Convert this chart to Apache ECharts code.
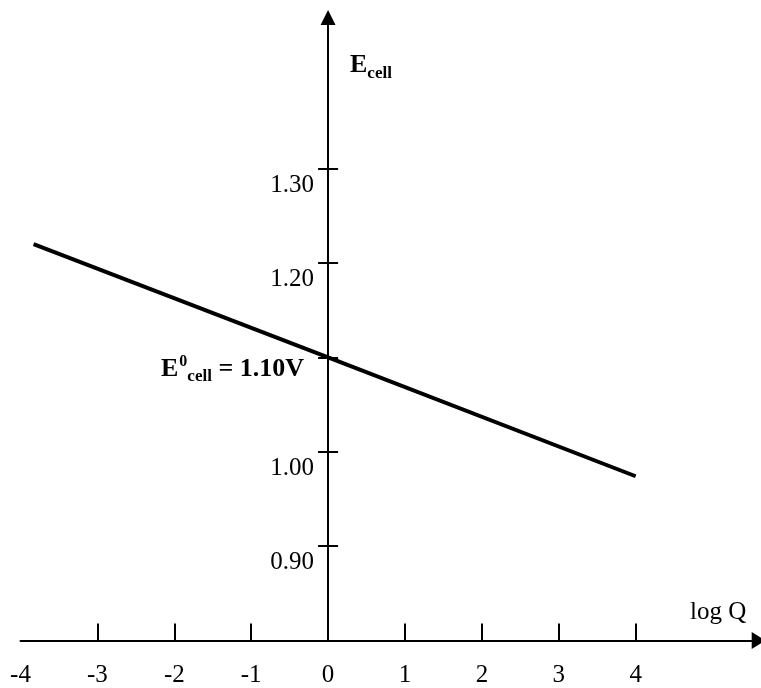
<!DOCTYPE html>
<html>
<head>
<meta charset="utf-8">
<script src="https://cdn.jsdelivr.net/npm/echarts@6/dist/echarts.min.js"></script>
<style>
html,body{margin:0;padding:0;background:#fff;}
#chart{width:761px;height:688px;}
</style>
</head>
<body>
<div id="chart"></div>
<script>
// Data
const logQ = [-3.83, 0, 4];
const ecell = [1.220, 1.10, 0.974];
const xTickValues = [-3, -2, -1, 0, 1, 2, 3, 4];
const xLabelValues = [-4, -3, -2, -1, 0, 1, 2, 3, 4];
const yTickValues = [0.9, 1.0, 1.1, 1.2, 1.3];
const yLabelValues = [0.9, 1.0, 1.2, 1.3];

const X_MIN = -4, X_MAX = 5.6;
const Y_MIN = 0.80, Y_MAX = 1.46;
const GRID = {left: 20.5, right: 2.3, top: 17.5, bottom: 47.5};

const FONT = "'Liberation Serif', 'Times New Roman', serif";
const chart = echarts.init(document.getElementById('chart'), null, {renderer: 'canvas'});

// place the vertical axis at x = 0 by offsetting it from the grid edges
const gridW = 761 - GRID.left - GRID.right;
const pxPerUnit = gridW / (X_MAX - X_MIN);
const leftOffset = -(0 - X_MIN) * pxPerUnit;
const rightOffset = -(X_MAX - 0) * pxPerUnit;

const option = {
  animation: false,
  backgroundColor: '#fff',
  grid: Object.assign({containLabel: false, outerBoundsMode: 'none'}, GRID),
  xAxis: {
    type: 'value', min: X_MIN, max: X_MAX,
    axisLine: {show: true, onZero: false, symbol: ['none', 'triangle'], symbolSize: [17, 14],
      lineStyle: {color: '#000', width: 2}},
    axisTick: {show: true, inside: true, length: 17, customValues: xTickValues,
      lineStyle: {color: '#000', width: 2}},
    axisLabel: {show: true, customValues: xLabelValues, margin: 22,
      fontFamily: FONT, fontSize: 25, color: '#000',
      formatter: v => String(v)},
    splitLine: {show: false}
  },
  yAxis: [{
    type: 'value', min: Y_MIN, max: Y_MAX, position: 'left', offset: leftOffset,
    axisLine: {show: true, onZero: false, symbol: ['none', 'triangle'], symbolSize: [15, 15],
      lineStyle: {color: '#000', width: 2}},
    axisTick: {show: true, inside: false, length: 10, customValues: yTickValues,
      lineStyle: {color: '#000', width: 2}},
    axisLabel: {show: true, customValues: yLabelValues, margin: 14, verticalAlign: 'top',
      padding: [4, 0, 0, 0],
      fontFamily: FONT, fontSize: 25, color: '#000',
      formatter: v => v.toFixed(2)},
    splitLine: {show: false}
  }, {
    type: 'value', min: Y_MIN, max: Y_MAX, position: 'right', offset: rightOffset,
    axisLine: {show: false, onZero: false},
    axisTick: {show: true, inside: false, length: 10, customValues: yTickValues,
      lineStyle: {color: '#000', width: 2}},
    axisLabel: {show: false},
    splitLine: {show: false}
  }],
  series: [{
    type: 'line',
    xAxisIndex: 0, yAxisIndex: 0,
    data: logQ.map((x, i) => [x, ecell[i]]),
    showSymbol: false,
    lineStyle: {color: '#000', width: 4},
    z: 5
  }],
  graphic: [
    {
      type: 'text', left: 350, top: 52, z: 10,
      style: {
        text: '{e|E}{s|cell}',
        rich: {
          e: {fontFamily: FONT, fontSize: 26, fontWeight: 'bold', fill: '#000', lineHeight: 27, verticalAlign: 'bottom'},
          s: {fontFamily: FONT, fontSize: 17, fontWeight: 'bold', fill: '#000', lineHeight: 18, verticalAlign: 'bottom', padding: [0, 0, -4, 0]}
        }
      }
    },
    {
      type: 'text', left: 161, top: 354, z: 10,
      style: {
        text: '{e|E}{p|0}{s|cell}{e| = 1.10V}',
        rich: {
          e: {fontFamily: FONT, fontSize: 26, fontWeight: 'bold', fill: '#000', lineHeight: 27, verticalAlign: 'bottom'},
          p: {fontFamily: FONT, fontSize: 16, fontWeight: 'bold', fill: '#000', lineHeight: 16, verticalAlign: 'top', padding: [-1, 0, 0, 1]},
          s: {fontFamily: FONT, fontSize: 17, fontWeight: 'bold', fill: '#000', lineHeight: 18, verticalAlign: 'bottom', padding: [0, 0, -3, 0]}
        }
      }
    },
    {
      type: 'text', left: 690, top: 600, z: 10,
      style: {text: 'log Q', fontFamily: FONT, fontSize: 25, fill: '#000'}
    }
  ]
};
chart.setOption(option);
</script>
</body>
</html>
